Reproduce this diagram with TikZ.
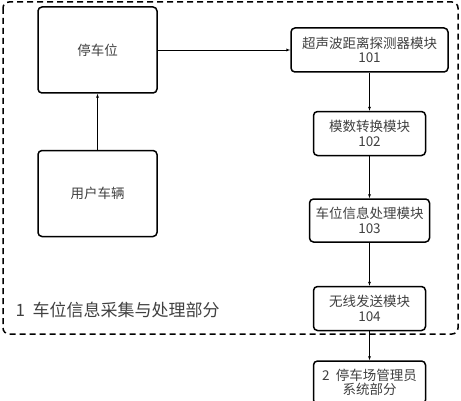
\documentclass[tikz,border=0pt]{standalone}
\usepackage{fontspec}
\setmainfont{Noto Sans CJK SC}
\usepackage{tikz}
\usetikzlibrary{shapes.geometric, arrows}
\usetikzlibrary{positioning}
\tikzstyle{block} = [rectangle, rounded corners=4pt, draw, line width=1.5pt, align=center, text=black!75, font=\fontsize{13.5pt}{14.5pt}\selectfont]
\tikzstyle{module} = [block, minimum width=112pt, minimum height=44pt]
\tikzstyle{bigblock} = [block, minimum width=119pt, minimum height=86pt]

\begin{document}
\begin{tikzpicture}[x=1pt, y=1pt, node distance=40pt, >=latex]
  \useasboundingbox (0,0) rectangle (461,400);
  \draw[line width=1.5pt, dash pattern=on 6pt off 4pt, rounded corners=6pt] (3,398) rectangle (458,66);

  \node[bigblock] (park) at (97.5,350) {停车位};
  \node[bigblock, below=56pt of park] (user) {用户车辆};
  \node[module, minimum width=157pt] (sensor) at (369.5,350) {超声波距离探测器模块\\101};
  \node[module, below=38pt of sensor] (adc) {模数转换模块\\102};
  \node[module, minimum width=120pt, minimum height=43pt, below=42pt of adc] (proc) {车位信息处理模块\\103};
  \node[module, below=43pt of proc] (send) {无线发送模块\\104};
  \node[module, minimum height=43pt, below=29pt of send] (admin) {2\ \ 停车场管理员\\系统部分};
  \node[anchor=west, text=black!75, font=\fontsize{17pt}{18pt}\selectfont] (part) at (12,90) {1\ \ 车位信息采集与处理部分};

  \path[->] (user) edge (park);
  \path[->] (park) edge (sensor);
  \path[->] (sensor) edge (adc);
  \path[->] (adc) edge (proc);
  \path[->] (proc) edge (send);
  \path[->] (send) edge (admin);
\end{tikzpicture}
\end{document}
